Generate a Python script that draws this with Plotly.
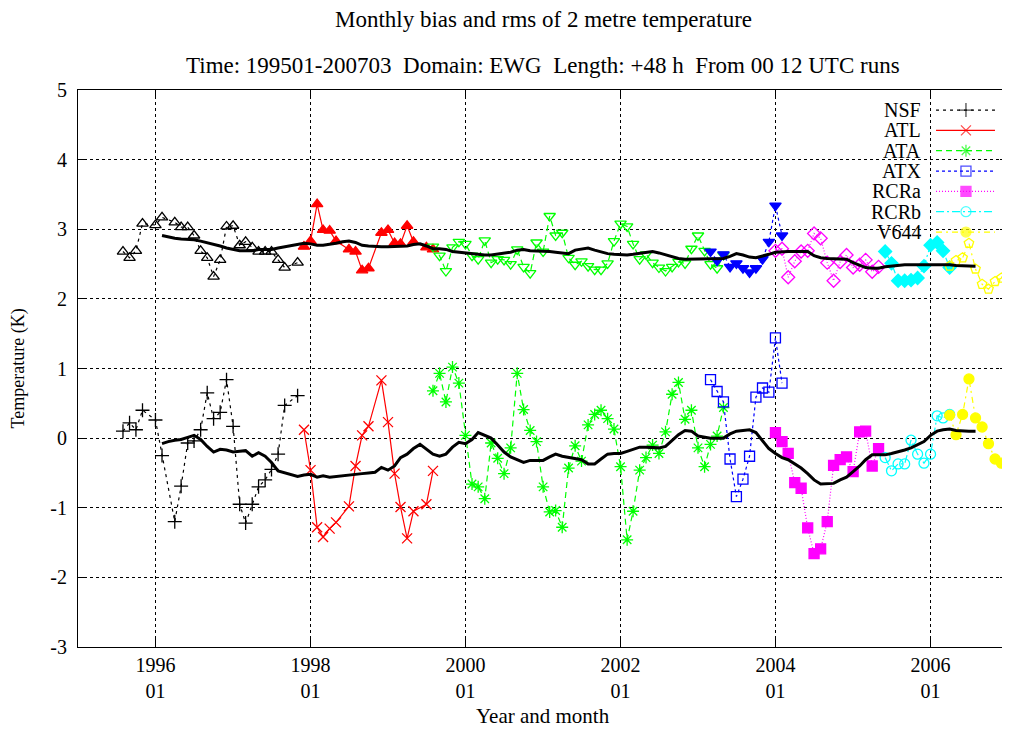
import pandas as pd
import plotly.graph_objects as go

# ---------------- data ----------------
nsf_months = ["199508", "199509", "199510", "199511", "199601", "199602", "199604", "199605",
              "199606", "199607", "199608", "199609", "199610", "199611", "199612", "199701",
              "199702", "199703", "199704", "199705", "199706", "199707", "199708", "199709",
              "199711"]
nsf_bias = [0.10, 0.22, 0.12, 0.40, 0.26, -0.25, -1.20, -0.69, -0.07, -0.04, 0.12, 0.65, 0.28,
            0.37, 0.84, 0.17, -0.95, -1.22, -0.95, -0.70, -0.60, -0.45, -0.23, 0.47, 0.61]
nsf_rms = [2.68, 2.59, 2.69, 3.08, 3.06, 3.17, 3.10, 3.03, 3.03, 2.91, 2.69, 2.59, 2.32, 2.56,
           3.04, 3.05, 2.77, 2.82, 2.74, 2.68, 2.68, 2.68, 2.56, 2.45, 2.52]

atl_months = ["199712", "199801", "199802", "199803", "199804", "199805", "199807", "199808",
              "199809", "199810", "199812", "199901", "199902", "199903", "199904", "199905",
              "199907", "199908"]
atl_bias = [0.12, -0.46, -1.28, -1.42, -1.30, -1.21, -0.98, -0.40, 0.04, 0.17, 0.83, 0.23,
            -0.51, -0.99, -1.44, -1.05, -0.95, -0.47]
atl_rms = [2.75, 2.83, 3.36, 2.99, 2.98, 2.83, 2.71, 2.68, 2.41, 2.44, 2.95, 2.99, 2.80, 2.79,
           3.05, 2.82, 2.74, 2.71]

ata_start = "199908"
ata_bias = [0.68, 0.93, 0.52, 1.02, 0.79, 0.04, -0.66, -0.70, -0.87, -0.07,
            -0.29, -0.51, -0.14, 0.93, 0.41, 0.11, -0.05, -0.70, -1.06, -1.04,
            -1.28, -0.43, -0.11, -0.33, 0.19, 0.34, 0.40, 0.28, 0.13, -0.41,
            -1.46, -1.05, -0.46, -0.28, -0.10, -0.22, 0.09, 0.63, 0.80, 0.27,
            0.40, -0.14, -0.41, -0.09, 0.03, 0.44]
ata_rms = [2.75, 2.62, 2.40, 2.74, 2.82, 2.79, 2.62, 2.57, 2.84, 2.52,
           2.57, 2.56, 2.50, 2.71, 2.46, 2.37, 2.81, 2.68, 3.19, 2.91,
           2.95, 2.59, 2.49, 2.54, 2.47, 2.42, 2.42, 2.51, 2.83, 3.08,
           3.04, 2.79, 2.57, 2.64, 2.52, 2.45, 2.40, 2.46, 2.53, 2.51,
           2.72, 2.91, 2.69, 2.50, 2.44, 2.63]

atx_start = "200303"
atx_bias = [0.84, 0.67, 0.52, -0.30, -0.84, -0.59, -0.26, 0.59, 0.72, 0.66, 1.44, 0.79]
atx_rms = [2.68, 2.55, 2.64, 2.46, 2.51, 2.44, 2.38, 2.44, 2.57, 2.82, 3.34, 2.91]

rcra_start = "200401"
rcra_bias = [0.08, -0.05, -0.22, -0.64, -0.72, -1.29, -1.66, -1.59, -1.20, -0.39, -0.31,
             -0.27, -0.48, 0.09, 0.10, -0.40, -0.15]
rcra_rms = [2.69, 2.72, 2.31, 2.54, 2.68, 2.69, 2.94, 2.87, 2.52, 2.26, 2.53, 2.63, 2.45,
            2.49, 2.56, 2.39, 2.46]

rcrb_start = "200506"
rcrb_bias = [-0.28, -0.47, -0.37, -0.37, -0.03, -0.23, -0.36, -0.23, 0.32, 0.29, 0.34]
rcrb_rms = [2.68, 2.51, 2.26, 2.26, 2.27, 2.30, 2.47, 2.77, 2.81, 2.69, 2.45]

v644_start = "200604"
v644_bias = [0.33, 0.05, 0.34, 0.85, 0.29, 0.16, -0.08, -0.30, -0.36, -0.33]
v644_rms = [2.47, 2.55, 2.59, 2.80, 2.43, 2.21, 2.14, 2.25, 2.30, 2.50]

# running means (black curves), monthly from 199602
mean_start = "199602"
bias_mean = [-0.08, -0.05, -0.03, -0.02, 0.01, 0.04, -0.02, -0.12, -0.20, -0.16,
             -0.17, -0.20, -0.19, -0.18, -0.26, -0.21, -0.26, -0.35, -0.47, -0.50,
             -0.52, -0.55, -0.53, -0.52, -0.56, -0.54, -0.56, -0.55, -0.53, -0.52,
             -0.52, -0.51, -0.50, -0.49, -0.42, -0.46, -0.40, -0.28, -0.23, -0.15,
             -0.09, -0.16, -0.23, -0.26, -0.23, -0.13, -0.06, -0.08, -0.02, 0.08,
             0.04, 0.00, -0.10, -0.20, -0.27, -0.31, -0.35, -0.32, -0.32, -0.32,
             -0.27, -0.23, -0.26, -0.28, -0.29, -0.31, -0.37, -0.37, -0.30, -0.23,
             -0.22, -0.22, -0.19, -0.16, -0.13, -0.13, -0.14, -0.14, -0.12, -0.04,
             0.05, 0.11, 0.10, 0.03, 0.01, 0.00, 0.00, 0.00, 0.06, 0.10,
             0.11, 0.12, 0.08, -0.04, -0.15, -0.22, -0.28, -0.31, -0.37, -0.43,
             -0.51, -0.60, -0.66, -0.66, -0.65, -0.60, -0.56, -0.48, -0.40, -0.31,
             -0.24, -0.24, -0.24, -0.22, -0.20, -0.17, -0.14, -0.10, -0.05, 0.04,
             0.10, 0.12, 0.13, 0.11, 0.10, 0.10, 0.10]
rms_mean = [2.91, 2.89, 2.87, 2.86, 2.86, 2.85, 2.83, 2.81, 2.78, 2.76,
            2.73, 2.71, 2.69, 2.69, 2.69, 2.71, 2.71, 2.71, 2.73, 2.75,
            2.77, 2.79, 2.80, 2.79, 2.77, 2.77, 2.78, 2.80, 2.82, 2.83,
            2.81, 2.77, 2.76, 2.75, 2.75, 2.75, 2.75, 2.75, 2.76, 2.78,
            2.79, 2.76, 2.72, 2.72, 2.71, 2.68, 2.67, 2.66, 2.65, 2.63,
            2.63, 2.63, 2.64, 2.65, 2.67, 2.70, 2.71, 2.69, 2.69, 2.69,
            2.68, 2.67, 2.66, 2.65, 2.70, 2.72, 2.73, 2.70, 2.67, 2.65,
            2.64, 2.63, 2.63, 2.64, 2.65, 2.67, 2.68, 2.66, 2.63, 2.60,
            2.58, 2.57, 2.57, 2.57, 2.57, 2.57, 2.57, 2.58, 2.61, 2.65,
            2.63, 2.60, 2.59, 2.61, 2.64, 2.67, 2.68, 2.68, 2.68, 2.68,
            2.68, 2.62, 2.59, 2.58, 2.58, 2.58, 2.57, 2.52, 2.48, 2.45,
            2.44, 2.44, 2.46, 2.47, 2.49, 2.49, 2.49, 2.49, 2.50, 2.50,
            2.50, 2.49, 2.49, 2.48, 2.48, 2.47, 2.47]

x_tick_years = ["1996", "1998", "2000", "2002", "2004", "2006"]
y_ticks = [-3, -2, -1, 0, 1, 2, 3, 4, 5]


def ym(lst):
    return pd.to_datetime(lst, format="%Y%m")


def run(start, n):
    return pd.date_range(pd.to_datetime(start, format="%Y%m"), periods=n, freq="MS")


FONT = "Liberation Serif"

series = [
    # name, months, bias, rms, color, dash, bias symbol, rms symbol
    ("NSF", ym(nsf_months), nsf_bias, nsf_rms, "#000000", "3px,4px", "cross-thin-open", "triangle-up-open"),
    ("ATL", ym(atl_months), atl_bias, atl_rms, "#ff0000", "solid", "x-thin-open", "triangle-up"),
    ("ATA", run(ata_start, len(ata_bias)), ata_bias, ata_rms, "#00ff00", "6px,4px", "asterisk-open", "triangle-down-open"),
    ("ATX", run(atx_start, len(atx_bias)), atx_bias, atx_rms, "#0000ff", "3px,3px", "square-open", "triangle-down"),
    ("RCRa", run(rcra_start, len(rcra_bias)), rcra_bias, rcra_rms, "#ff00ff", "1px,2px", "square", "diamond-open"),
    ("RCRb", run(rcrb_start, len(rcrb_bias)), rcrb_bias, rcrb_rms, "#00ffff", "8px,3px,2px,3px", "circle-open", "diamond"),
    ("V644", run(v644_start, len(v644_bias)), v644_bias, v644_rms, "#ffff00", "6px,4px,2px,4px", "circle", "pentagon-open"),
]

fig = go.Figure()

for name, months, bias, rms, color, dash, sym_b, sym_r in series:
    for vals, sym in ((rms, sym_r), (bias, sym_b)):
        fig.add_trace(go.Scatter(
            x=months, y=vals, mode="lines+markers", showlegend=False,
            line=dict(color=color, width=1.2, dash=dash),
            marker=dict(symbol=sym, size=10, color=color, line=dict(color=color, width=1.3)),
        ))

mean_months = run(mean_start, len(bias_mean))
for vals in (rms_mean, bias_mean):
    fig.add_trace(go.Scatter(x=mean_months, y=vals, mode="lines", showlegend=False,
                             line=dict(color="black", width=3)))

# ---------- gnuplot-style key (text left, sample right), drawn in plot-area coords ----------
key_text_x = 0.909
key_line = [0.9226, 0.9548, 0.986]
key_top = 0.964
key_step = 0.0365
annotations = []
for i, (name, months, bias, rms, color, dash, sym_b, sym_r) in enumerate(series):
    yk = key_top - i * key_step
    fig.add_trace(go.Scatter(
        x=key_line, y=[yk] * 3, xaxis="x2", yaxis="y2", mode="lines+markers", showlegend=False,
        line=dict(color=color, width=1.2, dash=dash),
        marker=dict(symbol=sym_b, size=[0, 10, 0], color=color, line=dict(color=color, width=1.3)),
        hoverinfo="skip",
    ))
    annotations.append(dict(x=key_text_x, y=yk, xref="paper", yref="paper", text=name,
                            showarrow=False, xanchor="right", yanchor="middle", height=18,
                            font=dict(family=FONT, size=20, color="black")))

annotations += [
    dict(x=0.5, y=1.1257, xref="paper", yref="paper", showarrow=False,
         text="Monthly bias and rms of 2 metre temperature",
         font=dict(family=FONT, size=23, color="black"), yanchor="middle"),
    dict(x=0.5, y=1.0431, xref="paper", yref="paper", showarrow=False,
         text="Time: 199501-200703&nbsp;&nbsp;Domain: EWG&nbsp;&nbsp;Length: +48 h&nbsp;&nbsp;From 00 12 UTC runs",
         font=dict(family=FONT, size=23, color="black"), yanchor="middle"),
    dict(x=0.5, y=-0.1239, xref="paper", yref="paper", showarrow=False, text="Year and month",
         font=dict(family=FONT, size=21, color="black"), yanchor="middle"),
    dict(x=-0.0645, y=0.5, xref="paper", yref="paper", showarrow=False, text="Temperature (K)",
         textangle=-90, font=dict(family=FONT, size=18, color="black"), xanchor="center", yanchor="middle"),
]

axis_common = dict(
    showline=True, linecolor="black", linewidth=1, mirror="ticks",
    ticks="inside", ticklen=8, tickcolor="black", tickwidth=1,
    showgrid=True, gridcolor="black", gridwidth=1, griddash="dot",
    zeroline=False, tickfont=dict(family=FONT, size=20, color="black"),
)

# the page body has an 8 px margin, so the figure is 8 px smaller and margins shifted
fig.update_layout(
    width=1002, height=721,
    margin=dict(l=70, r=2, t=82, b=82),
    paper_bgcolor="white", plot_bgcolor="white",
    font=dict(family=FONT, size=20, color="black"),
    xaxis=dict(type="date", range=["1995-01-01", "2007-01-01"],
               tickvals=[y + "-01-01" for y in x_tick_years],
               ticktext=[y + "<br>01" for y in x_tick_years], **axis_common),
    yaxis=dict(range=[-3, 5], tickvals=y_ticks, ticktext=[str(v) for v in y_ticks],
               ticklabelstandoff=6, **axis_common),
    xaxis2=dict(overlaying="x", range=[0, 1], visible=False, anchor="y2"),
    yaxis2=dict(overlaying="y", range=[0, 1], visible=False, anchor="x2"),
    annotations=annotations,
    showlegend=False,
)

fig.write_html("out.html")
